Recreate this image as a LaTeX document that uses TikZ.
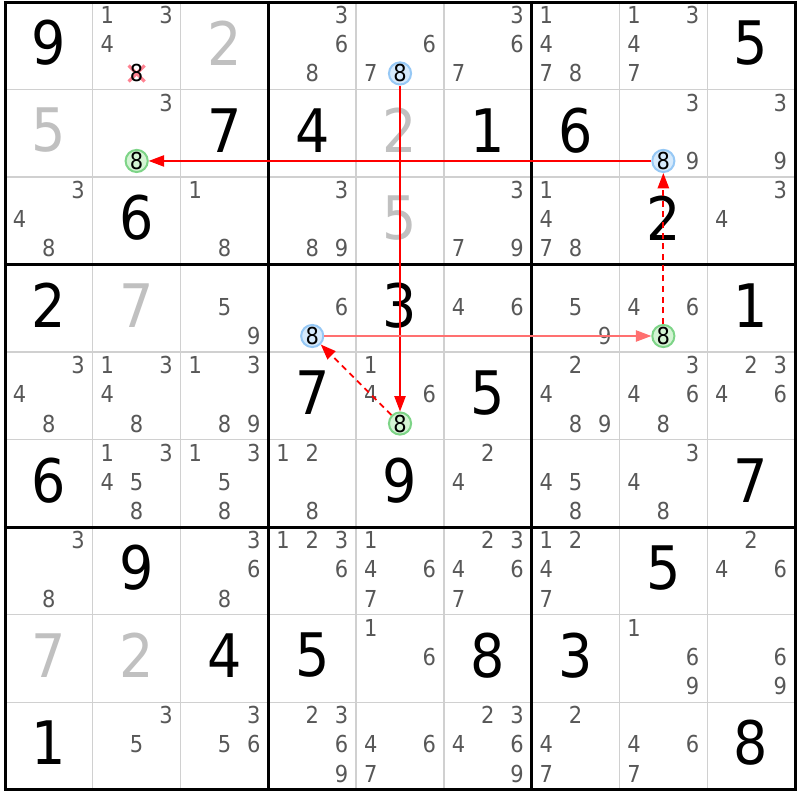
\documentclass[tikz,border=0pt]{standalone}
\usepackage{fontspec}
\setmainfont{DejaVu Sans Condensed}
\usetikzlibrary{arrows.meta}

\definecolor{gridgrey}{RGB}{208,208,208}
\definecolor{candgrey}{RGB}{88,88,88}
\definecolor{solvedgrey}{RGB}{192,192,192}
\definecolor{ringblue}{RGB}{150,200,245}
\definecolor{fillblue}{RGB}{214,234,252}
\definecolor{ringgreen}{RGB}{125,212,135}
\definecolor{fillgreen}{RGB}{212,244,212}
\definecolor{linkred}{RGB}{255,0,0}
\definecolor{lightred}{RGB}{255,112,112}
\definecolor{crosspink}{RGB}{255,130,145}

\def\cw{87.78}
\def\ch{87.52}

\tikzset{every picture/.style={line width=0.75pt}}
\tikzset{
  given/.style={font=\fontsize{45}{45}\selectfont, text=black, inner sep=0pt},
  solved/.style={given, text=solvedgrey},
  cand/.style={font=\fontsize{17.5}{18}\selectfont, text=candgrey, inner sep=0pt},
  hlblue/.style={cand, text=black, circle, draw=ringblue, fill=fillblue, line width=1.5pt, minimum size=16pt},
  hlgreen/.style={hlblue, draw=ringgreen, fill=fillgreen},
  link/.style={draw=linkred, line width=0.9pt, -{Triangle[length=11.5pt,width=8.5pt]}},
  dashlink/.style={link, line width=1.3pt, dash pattern=on 4.5pt off 3.5pt},
  lightlink/.style={link, draw=lightred}
}

\begin{document}
\begin{tikzpicture}[x=0.75pt,y=0.75pt,yscale=-1,xscale=1]
\useasboundingbox (0,0) rectangle (800,800);
\fill[white] (0,0) rectangle (800,800);

% thin cell lines
\foreach \i in {1,2,4,5,7,8} {
  \draw[gridgrey, line width=1pt] ({5+\cw*\i},2) -- ({5+\cw*\i},789.68);
  \draw[gridgrey, line width=1pt] (5,{2+\ch*\i}) -- (795,{2+\ch*\i});
}
% box lines
\foreach \i in {0,3,6,9} {
  \draw[black, line width=2.25pt] ({5+\cw*\i},0.9) -- ({5+\cw*\i},790.8);
  \draw[black, line width=2.25pt] (3.9,{2+\ch*\i}) -- (796.1,{2+\ch*\i});
}

% givens
\foreach \r/\c/\v in {1/1/9, 1/9/5, 2/3/7, 2/4/4, 2/6/1, 2/7/6, 3/2/6, 3/8/2,
    4/1/2, 4/5/3, 4/9/1, 5/4/7, 5/6/5, 6/1/6, 6/5/9, 6/9/7, 7/2/9, 7/8/5,
    8/3/4, 8/4/5, 8/6/8, 8/7/3, 9/1/1, 9/9/8}
  \node[given] (g\r\c) at ({5+\cw*(\c-0.5)}, {2+\ch*(\r-0.5)-3}) {\v};

% solved
\foreach \r/\c/\v in {1/3/2, 2/1/5, 2/5/2, 3/5/5, 4/2/7, 8/1/7, 8/2/2}
  \node[solved] (s\r\c) at ({5+\cw*(\c-0.5)}, {2+\ch*(\r-0.5)-3}) {\v};

% candidates
\foreach \r/\c/\ds in {1/2/{1,3,4}, 1/4/{3,6,8}, 1/5/{6,7}, 1/6/{3,6,7}, 1/7/{1,4,7,8}, 1/8/{1,3,4,7},
    2/2/{3}, 2/8/{3,9}, 2/9/{3,9},
    3/1/{3,4,8}, 3/3/{1,8}, 3/4/{3,8,9}, 3/6/{3,7,9}, 3/7/{1,4,7,8}, 3/9/{3,4},
    4/3/{5,9}, 4/4/{6}, 4/6/{4,6}, 4/7/{5,9}, 4/8/{4,6},
    5/1/{3,4,8}, 5/2/{1,3,4,8}, 5/3/{1,3,8,9}, 5/5/{1,4,6}, 5/7/{2,4,8,9}, 5/8/{3,4,6,8}, 5/9/{2,3,4,6},
    6/2/{1,3,4,5,8}, 6/3/{1,3,5,8}, 6/4/{1,2,8}, 6/6/{2,4}, 6/7/{4,5,8}, 6/8/{3,4,8},
    7/1/{3,8}, 7/3/{3,6,8}, 7/4/{1,2,3,6}, 7/5/{1,4,6,7}, 7/6/{2,3,4,6,7}, 7/7/{1,2,4,7}, 7/9/{2,4,6},
    8/5/{1,6}, 8/8/{1,6,9}, 8/9/{6,9},
    9/2/{3,5}, 9/3/{3,5,6}, 9/4/{2,3,6,9}, 9/5/{4,6,7}, 9/6/{2,3,4,6,9}, 9/7/{2,4,7}, 9/8/{4,6,7}}
  \foreach \d in \ds {
    \pgfmathtruncatemacro{\m}{mod(\d-1,3)}
    \pgfmathtruncatemacro{\n}{(\d-1)/3}
    \node[cand] (c\r\c\d) at ({5+\cw*(\c-1)+\cw/3*(\m+0.5)}, {2+\ch*(\r-1)+\ch/3*(\n+0.5)-1.5}) {\d};
  }

% eliminated 8
\coordinate (p12) at ({5+\cw*1.5}, {2+\ch*(2.5/3)-1.5});
\draw[crosspink, line width=2.4pt] ([shift={(-8,-8)}]p12) -- ([shift={(8,8)}]p12);
\draw[crosspink, line width=2.4pt] ([shift={(-8,8)}]p12) -- ([shift={(8,-8)}]p12);
\node[cand, text=black] (x12) at (p12) {8};

% chain
\node[hlblue] (n15) at ({5+\cw*4.5}, {2+\ch*(2.5/3)-1.5}) {8};
\foreach \r/\c/\sty in {2/2/hlgreen, 2/8/hlblue, 4/4/hlblue, 4/8/hlgreen, 5/5/hlgreen}
  \node[\sty] (n\r\c) at ({5+\cw*(\c-0.5)}, {2+\ch*(\r-1+2.5/3)-1.5}) {8};

\draw[link] (n15) -- (n55);
\draw[dashlink] (n55) -- (n44);
\draw[lightlink] (n44) -- (n48);
\draw[dashlink] (n48) -- (n28);
\draw[link] (n28) -- (n22);

\end{tikzpicture}
\end{document}
